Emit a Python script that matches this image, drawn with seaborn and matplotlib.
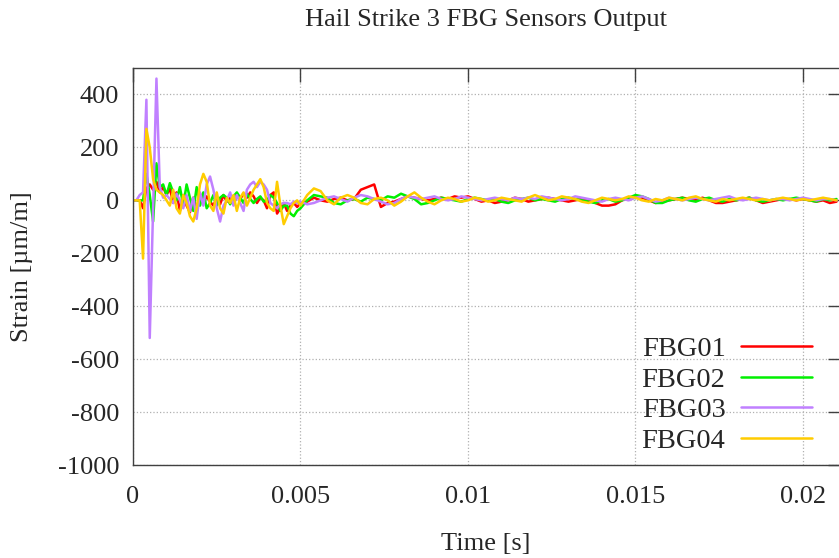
import numpy as np
import pandas as pd
import seaborn as sns
import matplotlib.pyplot as plt

# time base: 0.1 ms steps during the impact, 0.2 ms afterwards
t_early = np.round(np.arange(0, 0.0050, 0.0001), 5)
t_late = np.round(np.arange(0.0050, 0.02101, 0.0002), 5)

fbg01_early = [0, 0, 0, -30, 45, 60, 40, 70, 30, 50,
               20, 45, -10, 30, -40, 20, -20, -45, 10, -35,
               25, -10, 15, -5, -20, 10, -15, 20, -5, 10,
               -15, 20, 5, 25, 10, 30, 15, -10, 10, 0,
               -30, 20, 30, -50, -30, -10, -40, -20, -10, -25]
fbg01_late = [-10, -5, 10, 0, -5, 5, 10, 0, 5, 40,
              50, 60, -25, -10, -5, 5, 15, 10, 5, 0,
              5, 10, 5, 15, 10, 15, 5, -5, 0, -10,
              -5, 0, 10, 5, -5, 0, 5, 10, 5, 0,
              -5, 0, 5, 0, -10, -20, -20, -15, 0, 10,
              15, 10, 0, -10, -5, 0, 5, 10, 5, 0,
              10, 0, -10, -10, -5, 0, 5, 10, 0, -10,
              -5, 0, 5, 5, 0, 5, 0, -5, 0, -10, -5]

fbg02_early = [0, 0, 0, 0, 100, 20, -80, 140, 50, 60,
               20, 65, 30, 0, 50, -20, 60, 10, -40, 50,
               -20, 30, -30, -10, 20, -20, 10, 20, 10, -15,
               15, 30, 10, -10, 25, 5, -10, 5, 15, -5,
               0, 20, 10, -10, -40, -20, -20, -50, -60, -40]
fbg02_late = [-30, 0, 20, 15, 10, -10, -15, 0, 5, -5,
              10, 5, 0, 15, 10, 25, 15, 5, -15, -10,
              0, 10, 5, 0, -5, 5, 10, 5, 0, 5,
              -5, -10, 0, 5, 10, 0, 5, 0, -5, 5,
              10, 5, 0, -5, -10, 0, 5, -5, 0, 10,
              20, 15, 5, -10, -10, 0, 5, 10, 0, -5,
              5, 10, 0, -5, 5, 0, 5, 10, 0, -5,
              0, 5, 0, 5, 10, 5, 0, -5, 5, 0, 5]

fbg03_early = [0, 0, 20, 30, 380, -520, -30, 460, 50, 10,
               20, 5, -10, 25, 0, -30, 20, -40, 10, -70,
               30, -20, 60, 90, 40, -30, -80, -20, 0, 30,
               -20, 20, -10, -40, 40, 60, 70, 50, 70, 60,
               40, -10, -20, -30, -15, -10, -10, -15, -5, -10]
fbg03_late = [-5, -15, -10, 0, 10, 15, 5, -5, 10, 20,
              15, 5, -5, -15, -10, 5, 15, 10, 5, 10,
              15, 5, 0, 5, 15, 10, 5, 0, 5, 10,
              5, 0, 10, 5, 10, 5, 15, 10, 5, 0,
              5, 15, 10, 5, 0, -5, 5, 10, 5, 0,
              10, 15, 5, -5, 0, 10, 5, 0, 5, 10,
              5, 0, 5, 10, 15, 5, 0, 5, 10, 5,
              0, 5, 5, 0, 5, 10, 5, 0, 5, 5, 0]

fbg04_early = [0, 0, 0, -220, 270, 200, 80, 40, 30, 20,
               0, -20, 40, -30, -50, 20, -10, -60, -80, -30,
               60, 100, 70, -20, -40, 30, -30, -50, 10, -10,
               20, -40, 10, 30, -20, 10, 40, 60, 80, 50,
               -10, -30, -40, 70, -20, -90, -60, -30, -10, 0]
fbg04_late = [-20, 20, 45, 35, 0, -15, 10, 20, 10, -10,
              -15, 5, 10, 0, -20, -5, 15, 30, 10, -5,
              -15, 0, 10, 5, -5, 0, 10, 5, -5, 0,
              10, 5, 0, -5, 10, 20, 10, 0, 5, 15,
              10, 5, -5, -10, 0, 10, 5, 0, 5, 15,
              10, 0, -5, 5, 0, 10, 5, 0, 10, 15,
              5, 0, -5, 5, 0, 5, 10, 5, 0, 5,
              0, 5, 10, 5, 0, 5, 0, 5, 10, 5, 0]

sensors = ['FBG01', 'FBG02', 'FBG03', 'FBG04']
colors = ['#ff0000', '#00f000', '#c080ff', '#ffcc00']

time = np.concatenate([t_early, t_late])
series = [fbg01_early + fbg01_late, fbg02_early + fbg02_late,
          fbg03_early + fbg03_late, fbg04_early + fbg04_late]

frames = []
for name, vals in zip(sensors, series):
    frames.append(pd.DataFrame({'time': time, 'strain': vals, 'sensor': name}))
df = pd.concat(frames, ignore_index=True)

sns.set_style('white')
plt.rcParams['font.family'] = ['Liberation Serif', 'DejaVu Serif']
plt.rcParams['axes.unicode_minus'] = False

fig = plt.figure(figsize=(8.39, 5.58), dpi=100)
ax = fig.add_axes([133 / 839, 1 - 465 / 558, 1.003 - 133 / 839, (465 - 68) / 558])

sns.lineplot(data=df, x='time', y='strain', hue='sensor', palette=colors,
             linewidth=1.8, ax=ax, legend=False, sort=False)

ax.set_xlim(0, 0.02115)
ax.set_ylim(-1000, 500)
ax.set_xticks([0, 0.005, 0.01, 0.015, 0.02])
ax.set_xticklabels(['0', '0.005', '0.01', '0.015', '0.02'])
ax.set_yticks(range(-1000, 401, 200))
ax.tick_params(direction='in', length=10, width=1, labelsize=19,
               top=True, right=True, color='#404040')
ax.tick_params(axis='x', pad=15)
ax.tick_params(axis='y', pad=10)
ax.grid(True, linestyle=':', color='#b0b0b0', linewidth=0.9)
for s in ax.spines.values():
    s.set_color('#404040')
    s.set_linewidth(1)

fig.text(486 / 839, 1 - 20 / 558, 'Hail Strike 3 FBG Sensors Output',
         fontsize=19, ha='center', va='center')
ax.set_xlabel('Time [s]', fontsize=19, va='center')
ax.set_ylabel('Strain [\u00b5m/m]', fontsize=19, va='center')
ax.xaxis.set_label_coords((486 - 133) / 709, (465 - 544) / 397)
ax.yaxis.set_label_coords((22 - 133) / 709, 0.5)

handles = [plt.Line2D([], [], color=c, linewidth=1.8) for c in colors]
ax.legend(handles, sensors, loc='lower right', bbox_to_anchor=(0.995, -0.036),
          frameon=False, markerfirst=False, fontsize=20.5, handlelength=2.5,
          handletextpad=0.55, labelspacing=0.16)

fig.savefig('out.png', dpi=100)
